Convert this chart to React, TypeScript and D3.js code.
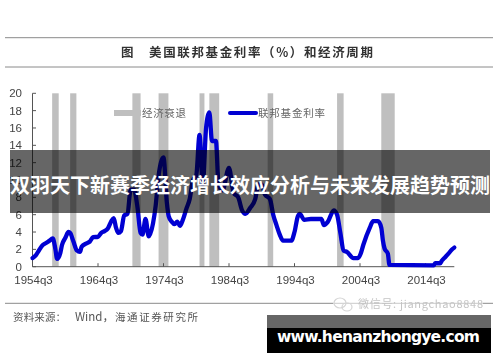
import React from "react";
import * as d3 from "d3";

const yTicks = [0, 2, 4, 6, 8, 10, 12, 14, 16, 18, 20];
const xTicks = [1954.5, 1964.5, 1974.5, 1984.5, 1994.5, 2004.5, 2014.5];
const xTickLabels = ["1954q3", "1964q3", "1974q3", "1984q3", "1994q3", "2004q3", "2014q3"];
const recessionStart = [1957.5, 1960.25, 1969.75, 1973.75, 1980, 1981.5, 1990.4, 2001, 2007.75];
const recessionEnd = [1958.5, 1961.2, 1971, 1975.25, 1980.75, 1983, 1991.25, 2002, 2009.8];
const rateDates = [
  1954.5, 1955, 1955.5, 1956, 1956.5, 1957, 1957.6, 1958, 1958.25, 1958.75, 1959, 1959.5, 1960, 1960.25, 1960.75,
  1961.25, 1961.75, 1962, 1962.75, 1963.25, 1963.75, 1964.5, 1965, 1965.5, 1966, 1966.5, 1966.9, 1967.25, 1967.6,
  1968, 1968.5, 1969, 1969.5, 1970, 1970.5, 1971, 1971.3, 1971.75, 1972.25, 1972.9, 1973.3, 1973.75, 1974.5, 1975,
  1975.3, 1975.75, 1976.2, 1976.6, 1977, 1977.5, 1978, 1978.5, 1979, 1979.5, 1980, 1980.5, 1981, 1981.5, 1981.9,
  1982.5, 1982.9, 1983.5, 1984.5, 1985.2, 1985.9, 1986.5, 1987, 1987.75, 1988.5, 1989, 1989.5, 1990, 1990.75,
  1991.25, 1991.75, 1992.25, 1992.75, 1994, 1994.5, 1995, 1995.3, 1996, 1997, 1998.6, 1999, 1999.6, 2000.5, 2001,
  2001.5, 2002, 2002.5, 2003.5, 2004.2, 2004.6, 2005, 2006, 2006.5, 2007.25, 2007.75, 2008, 2008.25, 2008.75, 2009,
  2015.75, 2016, 2016.75, 2017, 2017.5, 2018, 2018.5, 2018.9,
];
const rateValues = [
  1.0, 1.3, 1.9, 2.45, 2.7, 2.95, 3.25, 2.0, 0.9, 1.6, 2.5, 3.3, 4.0, 3.9, 2.9,
  1.9, 1.7, 2.3, 2.7, 2.9, 3.4, 3.45, 3.9, 4.1, 4.4, 5.2, 5.6, 4.5, 3.9,
  4.1, 5.9, 6.1, 8.9, 8.9, 7, 3.9, 3.7, 5.5, 3.5, 5, 7, 10.5, 12.6, 7.5,
  5.8, 5.2, 4.9, 5.2, 4.7, 5.5, 6.7, 7.8, 10, 10.5, 15.2, 9.5, 16, 17.8, 14.5,
  14.5, 9.5, 8.8, 11.4, 8.5, 8, 6.5, 6.1, 6.8, 7.8, 9.5, 9.5, 8.3, 7.8,
  6, 4.8, 3.7, 3, 3, 4, 5.8, 6.1, 5.4, 5.5, 5.5, 4.8, 5.2, 6.5, 6,
  3.9, 1.85, 1.7, 1.0, 1.0, 1.5, 2.5, 4.5, 5.25, 5.25, 4.5, 3.0, 2.1, 1.5, 0.2,
  0.15, 0.4, 0.4, 0.7, 1.1, 1.5, 1.95, 2.2,
];

const chartTitleLead = "图";
const chartTitle = "美国联邦基金利率（%）和经济周期";
const legendRecession = "经济衰退";
const legendRate = "联邦基金利率";
const sourceLabel = "资料来源：";
const sourceWind = "Wind，";
const sourceOrg = "海通证券研究所";
const watermark = "微信号: jiangchao8848";
const overlayTitle = "双羽天下新赛季经济增长效应分析与未来发展趋势预测";
const overlaySite = "www.henanzhongye.com";

const cjk = "'Noto Sans CJK SC', sans-serif";
const latin = "'Liberation Sans', Arial, sans-serif";

export default function App() {
  const x = d3.scaleLinear().domain([1954.5, 2014.5]).range([32.5, 425.5]);
  const y = d3.scaleLinear().domain([0, 20]).range([266.7, 93.3]);
  const line = d3
    .line<number>()
    .x((_, i) => x(rateDates[i]))
    .y((d) => y(d))
    .curve(d3.curveMonotoneX);
  const axisEnd = x(2018.9);

  return (
    <svg
      width={500}
      height={362}
      viewBox="0 0 500 362"
      style={{ position: "absolute", left: 0, top: 0, background: "#fff" }}
    >
      <defs>
        <filter id="soft" x="-5%" y="-5%" width="110%" height="110%">
          <feGaussianBlur stdDeviation="0.45" />
        </filter>
      </defs>
      <g filter="url(#soft)">
        <line x1={5} x2={493} y1={37.7} y2={37.7} stroke="#8a8a8a" strokeWidth={1} />
        <line x1={5} x2={493} y1={67} y2={67} stroke="#8a8a8a" strokeWidth={1} />
        <text x={121} y={57} fontFamily={cjk} fontWeight={700} fontSize={12.5} fill="#333">
          {chartTitleLead}
        </text>
        <text x={149} y={57} fontFamily={cjk} fontWeight={700} fontSize={12.5} fill="#333" textLength={224}>
          {chartTitle}
        </text>

        {recessionStart.map((s, i) => (
          <rect key={i} x={x(s)} width={x(recessionEnd[i]) - x(s)} y={93.3} height={173.4} fill="#bfbfbf" />
        ))}

        <line x1={32.5} x2={32.5} y1={y(20)} y2={y(0)} stroke="#555" />
        <line x1={32.5} x2={axisEnd} y1={y(0)} y2={y(0)} stroke="#555" />
        {yTicks.map((t) => (
          <g key={t}>
            <line x1={32.5} x2={36} y1={y(t)} y2={y(t)} stroke="#555" />
            <text x={22} y={y(t) + 4} textAnchor="end" fontFamily={latin} fontSize={11.5} fill="#444">
              {t}
            </text>
          </g>
        ))}
        {xTicks.map((t, i) => (
          <g key={t}>
            <line x1={x(t)} x2={x(t)} y1={y(0)} y2={y(0) - 3.5} stroke="#555" />
            <text x={x(t) + 1} y={284} textAnchor="middle" fontFamily={latin} fontSize={11.5} fill="#444">
              {xTickLabels[i]}
            </text>
          </g>
        ))}

        <path
          d={line(rateValues) ?? ""}
          fill="none"
          stroke="#0000d2"
          strokeWidth={4.3}
          strokeLinejoin="round"
          strokeLinecap="round"
        />

        <rect x={114} y={110} width={27} height={6} fill="#bfbfbf" />
        <text x={142} y={117} fontFamily={cjk} fontSize={10.5} fill="#666" textLength={44}>
          {legendRecession}
        </text>
        <line x1={230} x2={256} y1={113} y2={113} stroke="#0000d2" strokeWidth={4} strokeLinecap="round" />
        <text x={258} y={117} fontFamily={cjk} fontSize={10.5} fill="#666" textLength={67}>
          {legendRate}
        </text>

        <line x1={5} x2={493} y1={303.3} y2={303.3} stroke="#8a8a8a" strokeWidth={1} />
        <text x={13} y={321} fontFamily={cjk} fontSize={10.5} fill="#555" textLength={53}>
          {sourceLabel}
        </text>
        <text x={75} y={321} fontFamily={cjk} fontSize={11.5} fill="#555">
          {sourceWind}
        </text>
        <text x={115} y={321} fontFamily={cjk} fontSize={10.5} fill="#555" textLength={83}>
          {sourceOrg}
        </text>

        <rect x={333} y={297} width={150} height={14} fill="#fff" opacity={0.55} />
        <ellipse cx={340} cy={303} rx={6} ry={5} fill="none" stroke="#d5d5d5" strokeWidth={1.2} />
        <ellipse cx={347} cy={307} rx={5} ry={4} fill="none" stroke="#d5d5d5" strokeWidth={1.2} />
        <text x={358} y={308} fontFamily={cjk} fontSize={11} fill="#c4c4c4" textLength={125}>
          {watermark}
        </text>
      </g>

      <rect x={10} y={150} width={480} height={63} fill="#000" opacity={0.6} />
      <text x={10} y={192.5} fontFamily={cjk} fontWeight={700} fontSize={20} fill="#fff" textLength={480}>
        {overlayTitle}
      </text>

      <rect x={267} y={315} width={224} height={38} fill="#000" />
      <rect x={267} y={315} width={224} height={13} fill="#666" />
      <text x={277} y={342} fontFamily="'DejaVu Sans', Verdana, sans-serif" fontWeight={700} fontSize={15.5} fill="#fff" textLength={203}>
        {overlaySite}
      </text>
    </svg>
  );
}
